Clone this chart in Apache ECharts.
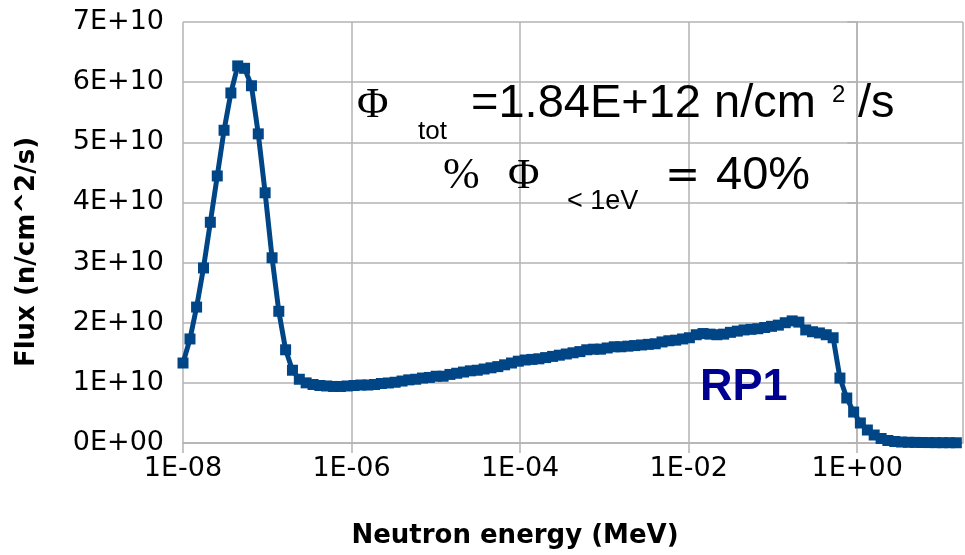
<!DOCTYPE html>
<html>
<head>
<meta charset="utf-8">
<script src="https://cdn.jsdelivr.net/npm/echarts@6/dist/echarts.min.js"></script>
<style>
  html, body { margin: 0; padding: 0; background: #ffffff; }
  #chart { width: 965px; height: 555px; }
</style>
</head>
<body>
<div id="chart"></div>
<script>
// Neutron energy of each spectrum point (MeV)
const energy = [
  1.00e-8, 1.21e-8, 1.45e-8, 1.75e-8, 2.11e-8, 2.55e-8, 3.07e-8, 3.70e-8, 4.46e-8, 5.38e-8,
  6.49e-8, 7.82e-8, 9.43e-8, 1.14e-7, 1.37e-7, 1.65e-7, 1.99e-7, 2.40e-7, 2.89e-7, 3.49e-7,
  4.21e-7, 5.07e-7, 6.12e-7, 7.37e-7, 8.89e-7, 1.07e-6, 1.29e-6, 1.56e-6, 1.88e-6, 2.26e-6,
  2.73e-6, 3.29e-6, 3.97e-6, 4.78e-6, 5.77e-6, 6.95e-6, 8.38e-6, 1.01e-5, 1.22e-5, 1.47e-5,
  1.77e-5, 2.13e-5, 2.57e-5, 3.10e-5, 3.74e-5, 4.51e-5, 5.44e-5, 6.55e-5, 7.90e-5, 9.52e-5,
  1.15e-4, 1.38e-4, 1.67e-4, 2.01e-4, 2.43e-4, 2.92e-4, 3.53e-4, 4.25e-4, 5.12e-4, 6.18e-4,
  7.45e-4, 8.98e-4, 1.08e-3, 1.31e-3, 1.57e-3, 1.90e-3, 2.29e-3, 2.76e-3, 3.32e-3, 4.01e-3,
  4.83e-3, 5.82e-3, 7.02e-3, 8.47e-3, 1.02e-2, 1.23e-2, 1.48e-2, 1.79e-2, 2.16e-2, 2.60e-2,
  3.13e-2, 3.78e-2, 4.55e-2, 5.49e-2, 6.62e-2, 7.98e-2, 9.62e-2, 1.16e-1, 1.40e-1, 1.69e-1,
  2.03e-1, 2.45e-1, 2.95e-1, 3.56e-1, 4.29e-1, 5.18e-1, 6.24e-1, 7.52e-1, 9.07e-1, 1.09,
  1.32, 1.59, 1.92, 2.31, 2.79, 3.36, 4.05, 4.88, 5.88, 7.09,
  8.55, 10.3, 12.4, 15.0
];

// Neutron flux at each energy (n/cm^2/s)
const flux = [
  1.33e10, 1.73e10, 2.26e10, 2.91e10, 3.67e10, 4.44e10, 5.20e10, 5.82e10, 6.27e10, 6.23e10,
  5.94e10, 5.14e10, 4.16e10, 3.08e10, 2.19e10, 1.55e10, 1.21e10, 1.06e10, 1.00e10, 0.973e10,
  0.956e10, 0.948e10, 0.940e10, 0.940e10, 0.948e10, 0.956e10, 0.964e10, 0.964e10, 0.973e10, 0.989e10,
  0.998e10, 1.01e10, 1.03e10, 1.05e10, 1.06e10, 1.08e10, 1.09e10, 1.11e10, 1.11e10, 1.14e10,
  1.16e10, 1.18e10, 1.20e10, 1.21e10, 1.23e10, 1.25e10, 1.27e10, 1.30e10, 1.33e10, 1.36e10,
  1.38e10, 1.39e10, 1.40e10, 1.42e10, 1.44e10, 1.46e10, 1.48e10, 1.50e10, 1.52e10, 1.55e10,
  1.56e10, 1.56e10, 1.58e10, 1.60e10, 1.60e10, 1.61e10, 1.62e10, 1.63e10, 1.64e10, 1.65e10,
  1.68e10, 1.70e10, 1.71e10, 1.73e10, 1.75e10, 1.80e10, 1.82e10, 1.81e10, 1.80e10, 1.81e10,
  1.84e10, 1.86e10, 1.88e10, 1.89e10, 1.90e10, 1.92e10, 1.94e10, 1.96e10, 2.00e10, 2.03e10,
  2.01e10, 1.88e10, 1.85e10, 1.83e10, 1.80e10, 1.75e10, 1.08e10, 0.748e10, 0.515e10, 0.333e10,
  0.216e10, 0.133e10, 0.075e10, 0.042e10, 0.025e10, 0.016e10, 0.012e10, 0.010e10, 0.008e10, 0.007e10,
  0.006e10, 0.005e10, 0.005e10, 0.004e10
];

// Axis tick labels (energy every two decades, flux every 1E+10)
const xTickLabels = ['1E-08', '1E-06', '1E-04', '1E-02', '1E+00'];
const yTickLabels = ['0E+00', '1E+10', '2E+10', '3E+10', '4E+10', '5E+10', '6E+10', '7E+10'];

// Energy axis range (MeV)
const energyMin = 1e-8;
const energyMax = 18;

const seriesColor = '#004586';
const gridColor = '#b3b3b3';
const axisFont = 'DejaVu Sans';
const noteFont = 'Liberation Sans';
const greekFont = 'Liberation Serif';

// Energy is drawn on a decade scale: x = log10(E)
const points = energy.map((e, i) => [Math.log10(e), flux[i]]);
const logMin = Math.log10(energyMin);

const chart = echarts.init(document.getElementById('chart'), null, { renderer: 'canvas' });

chart.setOption({
  backgroundColor: '#ffffff',
  animation: false,
  grid: { left: 183, right: 2, top: 22, bottom: 112, containLabel: false },
  xAxis: {
    type: 'value',
    min: logMin,
    max: Math.log10(energyMax),
    interval: 2,
    axisLine: { show: true, lineStyle: { color: gridColor, width: 1.5 } },
    axisTick: { show: true, length: 10, lineStyle: { color: gridColor, width: 1.5 } },
    splitLine: { show: true, lineStyle: { color: gridColor, width: 1.5 } },
    axisLabel: {
      color: '#000000',
      fontFamily: axisFont,
      fontSize: 27,
      margin: 12,
      showMaxLabel: false,
      formatter: function (v) {
        const k = (v - logMin) / 2;
        const r = Math.round(k);
        if (Math.abs(k - r) > 1e-6 || r < 0 || r >= xTickLabels.length) return '';
        return xTickLabels[r];
      }
    }
  },
  yAxis: {
    type: 'value',
    min: 0,
    max: 7e10,
    interval: 1e10,
    axisLine: { show: true, lineStyle: { color: gridColor, width: 1.5 } },
    axisTick: { show: true, length: 10, lineStyle: { color: gridColor, width: 1.5 } },
    splitLine: { show: true, lineStyle: { color: gridColor, width: 1.5 } },
    axisLabel: {
      color: '#000000',
      fontFamily: axisFont,
      fontSize: 27,
      margin: 19,
      formatter: function (v) {
        return yTickLabels[Math.round(v / 1e10)];
      }
    }
  },
  series: [{
    name: 'RP1',
    type: 'line',
    data: points,
    symbol: 'rect',
    symbolSize: 11,
    lineStyle: { color: seriesColor, width: 5 },
    itemStyle: { color: seriesColor },
    z: 3
  }],
  graphic: [
    // axis titles
    {
      type: 'text', x: 515, y: 536, z: 10,
      style: { text: 'Neutron energy (MeV)', fontFamily: axisFont, fontWeight: 'bold', fontSize: 26,
               fill: '#000000', textAlign: 'center', textVerticalAlign: 'middle' }
    },
    {
      type: 'text', x: 27, y: 252, rotation: Math.PI / 2, z: 10,
      style: { text: 'Flux (n/cm^2/s)', fontFamily: axisFont, fontWeight: 'bold', fontSize: 26,
               fill: '#000000', textAlign: 'center', textVerticalAlign: 'middle' }
    },
    // total flux formula
    { type: 'text', x: 357, y: 106, z: 10,
      style: { text: 'Φ', fontFamily: greekFont, fontSize: 43, fill: '#000000', textAlign: 'left', textVerticalAlign: 'middle' } },
    { type: 'text', x: 418, y: 132, z: 10,
      style: { text: 'tot', fontFamily: noteFont, fontSize: 26, fill: '#000000', textAlign: 'left', textVerticalAlign: 'middle' } },
    { type: 'text', x: 471, y: 104, z: 10,
      style: { text: '=1.84E+12 n/cm', fontFamily: noteFont, fontSize: 47, fill: '#000000', textAlign: 'left', textVerticalAlign: 'middle' } },
    { type: 'text', x: 832, y: 95, z: 10,
      style: { text: '2', fontFamily: noteFont, fontSize: 24, fill: '#000000', textAlign: 'left', textVerticalAlign: 'middle' } },
    { type: 'text', x: 858, y: 104, z: 10,
      style: { text: '/s', fontFamily: noteFont, fontSize: 47, fill: '#000000', textAlign: 'left', textVerticalAlign: 'middle' } },
    // thermal fraction formula
    { type: 'text', x: 443, y: 176, z: 10,
      style: { text: '%', fontFamily: greekFont, fontSize: 44, fill: '#000000', textAlign: 'left', textVerticalAlign: 'middle' } },
    { type: 'text', x: 508, y: 177, z: 10,
      style: { text: 'Φ', fontFamily: greekFont, fontSize: 43, fill: '#000000', textAlign: 'left', textVerticalAlign: 'middle' } },
    { type: 'text', x: 567, y: 202, z: 10,
      style: { text: '< 1eV', fontFamily: noteFont, fontSize: 27, fill: '#000000', textAlign: 'left', textVerticalAlign: 'middle' } },
    { type: 'text', x: 665, y: 177, z: 10,
      style: { text: '=', fontFamily: axisFont, fontSize: 42, fill: '#000000', textAlign: 'left', textVerticalAlign: 'middle' } },
    { type: 'text', x: 716, y: 176, z: 10,
      style: { text: '40%', fontFamily: noteFont, fontSize: 47, fill: '#000000', textAlign: 'left', textVerticalAlign: 'middle' } },
    // series tag
    { type: 'text', x: 700, y: 388, z: 10,
      style: { text: 'RP1', fontFamily: noteFont, fontWeight: 'bold', fontSize: 45, fill: '#000090', textAlign: 'left', textVerticalAlign: 'middle' } }
  ]
});
</script>
</body>
</html>
